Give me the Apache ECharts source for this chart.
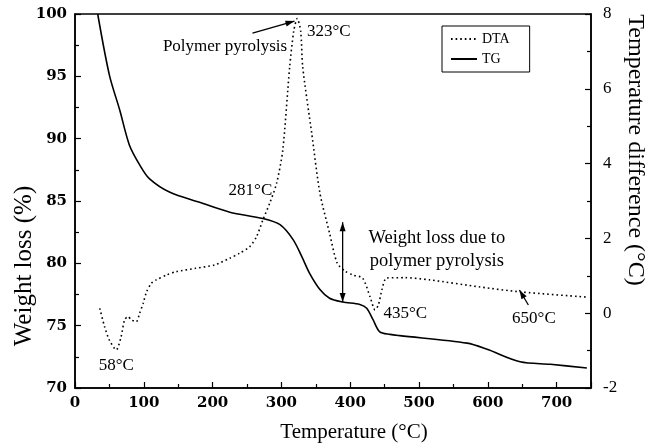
<!DOCTYPE html>
<html>
<head>
<meta charset="utf-8">
<script src="https://cdn.jsdelivr.net/npm/echarts@6/dist/echarts.min.js"></script>
<style>
html,body{margin:0;padding:0;background:#fff;}
#chart{width:649px;height:447px;}
</style>
</head>
<body>
<div id="chart"></div>
<script>
// ---- Data ----
const tgTemperature = [33, 50, 65, 79, 94, 108, 138, 181, 225, 273, 298, 317, 330, 341, 356, 370, 389, 414, 424, 433, 443, 458, 472, 570, 599, 647, 691, 744];
const tgWeight      = [100, 95.1, 92.3, 89.5, 87.9, 86.8, 85.7, 84.9, 84.1, 83.6, 83.1, 81.9, 80.5, 79.2, 77.9, 77.2, 76.9, 76.7, 76.4, 75.5, 74.5, 74.3, 74.2, 73.6, 73.1, 72.1, 71.9, 71.6];

const dtaTemperature = [36, 43, 50, 60, 67, 72, 77, 82, 89, 94, 99, 104, 111, 118, 133, 147, 175, 203, 225, 239, 254, 264, 273, 283, 293, 302, 312, 318, 323, 328, 331, 344, 356, 370, 381, 393, 404, 418, 429, 436, 441, 446, 453, 480, 516, 589, 647, 744];
const dtaDelta       = [0.13, -0.36, -0.72, -0.98, -0.63, -0.18, -0.09, -0.18, -0.23, 0.0, 0.26, 0.57, 0.80, 0.89, 1.02, 1.11, 1.20, 1.29, 1.47, 1.60, 1.78, 2.05, 2.49, 2.94, 3.47, 4.36, 6.58, 7.55, 7.88, 7.55, 6.58, 4.82, 3.21, 2.14, 1.34, 1.12, 1.02, 0.94, 0.43, 0.09, 0.22, 0.62, 0.94, 0.95, 0.89, 0.70, 0.57, 0.43];

const xTicks = {min: 0, max: 750, interval: 100};
const leftTicks = {min: 70, max: 100, interval: 5};
const rightTicks = {min: -2, max: 8, interval: 2};

const seriesNames = ['DTA', 'TG'];
const xTitle = 'Temperature (°C)';
const leftTitle = 'Weight loss (%)';
const rightTitle = 'Temperature difference (°C)';

// annotation anchors in data coordinates (DTA axis unless noted)
const notes = [
  {text: 'Polymer pyrolysis', at: [218, 7.12], size: 17},
  {text: '323°C', at: [369, 7.52], size: 17},
  {text: '281°C', at: [255, 3.29], size: 17},
  {text: 'Weight loss due to', at: [526, 2.01], size: 18.5},
  {text: 'polymer pyrolysis', at: [526, 1.40], size: 18.5},
  {text: '435°C', at: [480, 0.0], size: 17},
  {text: '650°C', at: [667, -0.13], size: 17},
  {text: '58°C', at: [60, -1.39], size: 17}
];
const pyrolysisArrow = {from: [258, 7.49], to: [319, 7.81]};
const arrow650 = {from: [659, 0.22], to: [646, 0.62]};
const weightLossSpan = {temp: 389, top: 83.3, bottom: 76.9}; // left axis

const serif = "'Liberation Serif','Times New Roman',serif";
const tickFont = "'DejaVu Serif','Liberation Serif',serif";

const chart = echarts.init(document.getElementById('chart'), null, {renderer: 'canvas'});

function axisBase(extra) {
  return Object.assign({
    axisLine: {show: true, onZero: false, lineStyle: {color: '#000', width: 1.5}},
    axisTick: {show: true, inside: true, length: 6, lineStyle: {color: '#000', width: 1.2}},
    minorTick: {show: true, splitNumber: 2, length: 4, lineStyle: {color: '#000', width: 1.2}},
    splitLine: {show: false},
    minorSplitLine: {show: false}
  }, extra);
}
const boldLabel = {color: '#000', fontFamily: tickFont, fontWeight: 'bold', fontSize: 15};

chart.setOption({
  animation: false,
  backgroundColor: '#fff',
  grid: {left: 75, right: 58, top: 14, bottom: 59, show: true, borderColor: '#000', borderWidth: 1.5, backgroundColor: 'transparent'},
  legend: {
    orient: 'vertical', left: 442, top: 26,
    data: seriesNames,
    itemWidth: 26, itemHeight: 10, itemGap: 6,
    padding: [6, 20, 6, 8],
    borderColor: '#000', borderWidth: 1,
    itemStyle: {opacity: 0},
    textStyle: {fontFamily: serif, fontSize: 14, color: '#000'}
  },
  xAxis: axisBase({
    type: 'value', min: xTicks.min, max: xTicks.max, interval: xTicks.interval,
    axisLabel: Object.assign({}, boldLabel, {margin: 8, showMaxLabel: false})
  }),
  yAxis: [
    axisBase({
      type: 'value', position: 'left', min: leftTicks.min, max: leftTicks.max, interval: leftTicks.interval,
      axisLabel: Object.assign({}, boldLabel, {margin: 8})
    }),
    axisBase({
      type: 'value', position: 'right', min: rightTicks.min, max: rightTicks.max, interval: rightTicks.interval,
      axisLabel: {color: '#000', fontFamily: serif, fontSize: 17, margin: 12}
    })
  ],
  series: [
    {
      name: 'DTA', type: 'line', yAxisIndex: 1, showSymbol: false, symbol: 'none', smooth: 0.25,
      data: dtaTemperature.map((t, i) => [t, dtaDelta[i]]),
      lineStyle: {color: '#000', width: 1.6, type: [1.6, 3]},
      itemStyle: {color: '#000'}
    },
    {
      name: 'TG', type: 'line', yAxisIndex: 0, showSymbol: false, symbol: 'none', smooth: 0.3,
      data: tgTemperature.map((t, i) => [t, tgWeight[i]]),
      lineStyle: {color: '#000', width: 1.6, type: 'solid'},
      itemStyle: {color: '#000'}
    }
  ]
});

function px(pt, axis) {
  return chart.convertToPixel({xAxisIndex: 0, yAxisIndex: axis === undefined ? 1 : axis}, pt);
}
function arrowGraphics(p0, p1, both) {
  const out = [];
  out.push({type: 'line', shape: {x1: p0[0], y1: p0[1], x2: p1[0], y2: p1[1]}, style: {stroke: '#000', lineWidth: 1.3}, z: 100});
  const head = (a, b) => {
    const dx = b[0] - a[0], dy = b[1] - a[1];
    const len = Math.sqrt(dx * dx + dy * dy);
    const ux = dx / len, uy = dy / len;
    const L = 9, W = 3;
    const bx = b[0] - ux * L, by = b[1] - uy * L;
    return {type: 'polygon', shape: {points: [[b[0], b[1]], [bx - uy * W, by + ux * W], [bx + uy * W, by - ux * W]]}, style: {fill: '#000'}, z: 100};
  };
  out.push(head(p0, p1));
  if (both) out.push(head(p1, p0));
  return out;
}

const g = [];
notes.forEach(n => {
  const p = px(n.at);
  g.push({type: 'text', x: p[0], y: p[1], z: 100,
    style: {text: n.text, fill: '#000', font: n.size + 'px ' + serif, align: 'center', verticalAlign: 'middle'}});
});
g.push(...arrowGraphics(px(pyrolysisArrow.from), px(pyrolysisArrow.to)));
g.push(...arrowGraphics(px(arrow650.from), px(arrow650.to)));
g.push(...arrowGraphics(px([weightLossSpan.temp, weightLossSpan.top], 0), px([weightLossSpan.temp, weightLossSpan.bottom], 0), true));

// axis titles
g.push({type: 'text', x: 354, y: 432, style: {text: xTitle, fill: '#000', font: '21px ' + serif, align: 'center', verticalAlign: 'middle'}});
g.push({type: 'text', x: 24, y: 266, rotation: Math.PI / 2, style: {text: leftTitle, fill: '#000', font: '25px ' + serif, align: 'center', verticalAlign: 'middle'}});
g.push({type: 'text', x: 635, y: 150, rotation: -Math.PI / 2, style: {text: rightTitle, fill: '#000', font: '24px ' + serif, align: 'center', verticalAlign: 'middle'}});

chart.setOption({graphic: g});
</script>
</body>
</html>
